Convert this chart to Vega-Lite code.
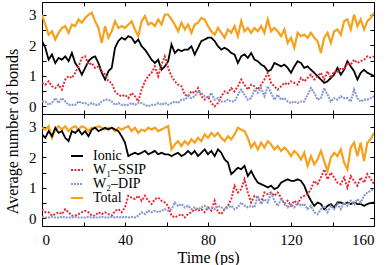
{
"$schema":"https://vega.github.io/schema/vega-lite/v6.json",
"padding":{"left":4,"top":1,"right":0,"bottom":0},
"config":{"font":"Times New Roman, Liberation Serif, serif","view":{"stroke":"black","strokeWidth":1},
"axis":{"domain":false,"grid":false,"tickColor":"black","tickSize":-4,"labelFont":"Times New Roman, Liberation Serif, serif","titleFont":"Times New Roman, Liberation Serif, serif","labelFontSize":15,"labelColor":"black","titleFontSize":16,"titleColor":"black","titleFontWeight":"normal","labelPadding":10},
"legend":{"labelFont":"Times New Roman, Liberation Serif, serif","labelFontSize":14,"labelColor":"black","symbolType":"stroke","symbolSize":144,"symbolStrokeWidth":2,"rowPadding":-1.8,"labelOffset":9,"padding":0}},
"spacing":0,
"bounds":"flush",
"resolve":{"legend":{"color":"independent","strokeDash":"independent"}},
"datasets":{
"top":[
{"t":0,"I":2.14,"S":0.77,"D":0.16,"T":3.0},
{"t":1.6,"I":1.92,"S":0.71,"D":0.16,"T":2.68},
{"t":3.2,"I":1.53,"S":0.82,"D":0.05,"T":2.35},
{"t":4.8,"I":1.70,"S":0.66,"D":0.11,"T":2.46},
{"t":6.4,"I":1.42,"S":0.6,"D":0.27,"T":2.19},
{"t":8,"I":1.59,"S":0.71,"D":0.11,"T":2.41},
{"t":9.6,"I":1.53,"S":0.55,"D":0.27,"T":2.57},
{"t":11.2,"I":1.64,"S":0.88,"D":0.16,"T":2.63},
{"t":12.8,"I":1.48,"S":0.99,"D":0.05,"T":2.41},
{"t":14.4,"I":1.75,"S":0.93,"D":0.05,"T":2.68},
{"t":16,"I":1.42,"S":1.1,"D":0.05,"T":2.63},
{"t":17.6,"I":1.26,"S":1.31,"D":0.16,"T":2.85},
{"t":19.2,"I":1.04,"S":1.59,"D":0.11,"T":2.74},
{"t":20.8,"I":1.26,"S":1.64,"D":0.11,"T":2.9},
{"t":22.4,"I":1.48,"S":1.37,"D":0.05,"T":3.0},
{"t":24,"I":1.59,"S":1.42,"D":0.11,"T":3.07},
{"t":25.6,"I":1.64,"S":1.26,"D":0.05,"T":2.79},
{"t":27.2,"I":1.42,"S":1.31,"D":0.05,"T":2.57},
{"t":28.8,"I":1.1,"S":1.15,"D":0.16,"T":2.08},
{"t":30.4,"I":0.88,"S":1.04,"D":0.22,"T":2.63},
{"t":32,"I":1.15,"S":0.82,"D":0.22,"T":2.25},
{"t":33.6,"I":1.26,"S":0.77,"D":0.16,"T":2.46},
{"t":35.2,"I":1.92,"S":0.49,"D":0.05,"T":2.79},
{"t":36.8,"I":2.14,"S":0.38,"D":0.11,"T":2.57},
{"t":38.4,"I":2.25,"S":0.33,"D":0.05,"T":2.63},
{"t":40,"I":2.19,"S":0.38,"D":0.05,"T":2.57},
{"t":41.6,"I":2.3,"S":0.27,"D":0.05,"T":2.68},
{"t":43.2,"I":2.25,"S":0.44,"D":0.11,"T":2.79},
{"t":44.8,"I":2.08,"S":0.33,"D":0.05,"T":2.52},
{"t":46.4,"I":2.19,"S":0.16,"D":0.11,"T":2.3},
{"t":48,"I":1.97,"S":0.55,"D":0.11,"T":2.79},
{"t":49.6,"I":1.86,"S":0.82,"D":0.05,"T":2.96},
{"t":51.2,"I":1.70,"S":0.99,"D":0.0,"T":2.68},
{"t":52.8,"I":1.53,"S":1.1,"D":0.05,"T":2.74},
{"t":54.4,"I":1.42,"S":1.31,"D":0.05,"T":2.63},
{"t":56,"I":1.53,"S":0.99,"D":0.11,"T":2.85},
{"t":57.6,"I":1.2,"S":1.37,"D":0.05,"T":2.68},
{"t":59.2,"I":1.31,"S":1.64,"D":0.11,"T":3.01},
{"t":60.8,"I":1.48,"S":1.26,"D":0.05,"T":3.01},
{"t":62.4,"I":2.03,"S":0.99,"D":0.11,"T":2.85},
{"t":64,"I":1.75,"S":0.82,"D":0.16,"T":2.68},
{"t":65.6,"I":1.86,"S":0.71,"D":0.11,"T":2.46},
{"t":67.2,"I":1.81,"S":0.66,"D":0.22,"T":2.74},
{"t":68.8,"I":1.86,"S":0.38,"D":0.22,"T":2.52},
{"t":70.4,"I":1.86,"S":0.33,"D":0.33,"T":2.68},
{"t":72,"I":1.97,"S":0.49,"D":0.27,"T":2.41},
{"t":73.6,"I":1.7,"S":0.44,"D":0.33,"T":2.68},
{"t":75.2,"I":1.92,"S":0.6,"D":0.49,"T":2.74},
{"t":76.8,"I":2.14,"S":0.33,"D":0.44,"T":2.9},
{"t":78.4,"I":2.19,"S":0.22,"D":0.33,"T":2.85},
{"t":80,"I":2.25,"S":0.33,"D":0.27,"T":2.63},
{"t":81.6,"I":2.25,"S":0.11,"D":0.44,"T":2.46},
{"t":83.2,"I":2.14,"S":0.0,"D":0.22,"T":2.35},
{"t":84.8,"I":1.97,"S":0.11,"D":0.27,"T":2.57},
{"t":86.4,"I":1.86,"S":0.33,"D":0.16,"T":2.41},
{"t":88,"I":1.92,"S":0.49,"D":0.16,"T":2.25},
{"t":89.6,"I":1.86,"S":0.44,"D":0.22,"T":2.52},
{"t":91.2,"I":1.75,"S":0.6,"D":0.16,"T":2.41},
{"t":92.8,"I":1.7,"S":0.49,"D":0.16,"T":2.63},
{"t":94.4,"I":1.42,"S":0.66,"D":0.38,"T":2.3},
{"t":96,"I":1.64,"S":0.88,"D":0.55,"T":2.79},
{"t":97.6,"I":1.7,"S":0.71,"D":0.38,"T":2.46},
{"t":99.2,"I":1.59,"S":0.55,"D":0.22,"T":2.57},
{"t":100.8,"I":1.75,"S":0.71,"D":0.27,"T":2.41},
{"t":102.4,"I":1.53,"S":0.66,"D":0.55,"T":2.57},
{"t":104,"I":1.48,"S":0.55,"D":0.44,"T":2.46},
{"t":105.6,"I":1.37,"S":0.71,"D":0.6,"T":2.63},
{"t":107.2,"I":1.31,"S":0.88,"D":0.33,"T":2.41},
{"t":108.8,"I":1.15,"S":1.1,"D":0.66,"T":2.85},
{"t":110.4,"I":1.2,"S":0.77,"D":0.44,"T":2.46},
{"t":112,"I":1.42,"S":0.66,"D":0.22,"T":2.57},
{"t":113.6,"I":1.37,"S":0.55,"D":0.38,"T":2.46},
{"t":115.2,"I":1.31,"S":0.66,"D":0.22,"T":2.3},
{"t":116.8,"I":1.37,"S":0.77,"D":0.27,"T":2.52},
{"t":118.4,"I":1.26,"S":0.71,"D":0.16,"T":2.08},
{"t":120,"I":1.1,"S":0.82,"D":0.11,"T":2.25},
{"t":121.6,"I":1.31,"S":0.77,"D":0.16,"T":1.92},
{"t":123.2,"I":1.48,"S":0.71,"D":0.11,"T":2.41},
{"t":124.8,"I":1.42,"S":0.93,"D":0.16,"T":2.3},
{"t":126.4,"I":1.26,"S":0.82,"D":0.16,"T":2.35},
{"t":128,"I":1.31,"S":0.93,"D":0.38,"T":2.25},
{"t":129.6,"I":1.2,"S":1.04,"D":0.6,"T":2.41},
{"t":131.2,"I":1.1,"S":0.88,"D":0.44,"T":2.25},
{"t":132.8,"I":0.99,"S":0.99,"D":0.22,"T":2.14},
{"t":134.4,"I":0.88,"S":1.1,"D":0.27,"T":1.75},
{"t":136,"I":0.77,"S":0.88,"D":0.6,"T":2.25},
{"t":137.6,"I":0.82,"S":1.15,"D":0.38,"T":2.41},
{"t":139.2,"I":0.93,"S":0.93,"D":0.16,"T":2.08},
{"t":140.8,"I":1.04,"S":1.15,"D":0.27,"T":2.46},
{"t":142.4,"I":1.26,"S":1.1,"D":0.22,"T":2.52},
{"t":144,"I":1.04,"S":1.26,"D":0.33,"T":2.35},
{"t":145.6,"I":1.2,"S":1.2,"D":0.27,"T":2.79},
{"t":147.2,"I":1.48,"S":1.42,"D":0.27,"T":2.85},
{"t":148.8,"I":1.31,"S":1.37,"D":0.16,"T":2.52},
{"t":150.4,"I":1.15,"S":1.53,"D":0.55,"T":3.01},
{"t":152,"I":0.88,"S":1.42,"D":0.27,"T":2.63},
{"t":153.6,"I":1.1,"S":1.48,"D":0.16,"T":2.85},
{"t":155.2,"I":1.2,"S":1.53,"D":0.22,"T":2.52},
{"t":156.8,"I":1.1,"S":1.64,"D":0.22,"T":2.79},
{"t":158.4,"I":1.05,"S":1.6,"D":0.27,"T":2.9},
{"t":160,"I":0.99,"S":1.64,"D":0.33,"T":3.07}
],
"bot":[
{"t":0,"I":2.75,"S":0.3,"D":0.05,"T":2.97},
{"t":1.6,"I":2.64,"S":0.2,"D":0.03,"T":2.91},
{"t":3.2,"I":2.86,"S":0.2,"D":0.03,"T":3.02},
{"t":4.8,"I":2.69,"S":0.09,"D":0.05,"T":2.64},
{"t":6.4,"I":2.97,"S":0.14,"D":0.03,"T":2.91},
{"t":8,"I":2.8,"S":0.2,"D":0.03,"T":3.02},
{"t":9.6,"I":2.86,"S":0.14,"D":0.05,"T":2.91},
{"t":11.2,"I":2.64,"S":0.3,"D":0.03,"T":3.02},
{"t":12.8,"I":2.53,"S":0.2,"D":0.03,"T":2.86},
{"t":14.4,"I":2.86,"S":0.09,"D":0.03,"T":2.97},
{"t":16,"I":2.8,"S":0.09,"D":0.05,"T":3.02},
{"t":17.6,"I":2.91,"S":0.14,"D":0.03,"T":2.91},
{"t":19.2,"I":2.75,"S":0.2,"D":0.03,"T":3.02},
{"t":20.8,"I":2.86,"S":0.25,"D":0.03,"T":2.97},
{"t":22.4,"I":2.69,"S":0.2,"D":0.05,"T":2.86},
{"t":24,"I":2.91,"S":0.09,"D":0.03,"T":2.97},
{"t":25.6,"I":2.97,"S":0.09,"D":0.03,"T":2.97},
{"t":27.2,"I":2.86,"S":0.2,"D":0.03,"T":3.02},
{"t":28.8,"I":2.91,"S":0.14,"D":0.05,"T":2.97},
{"t":30.4,"I":2.97,"S":0.2,"D":0.03,"T":2.91},
{"t":32,"I":2.91,"S":0.14,"D":0.03,"T":2.97},
{"t":33.6,"I":2.97,"S":0.09,"D":0.05,"T":2.97},
{"t":35.2,"I":2.91,"S":0.25,"D":0.03,"T":2.86},
{"t":36.8,"I":2.86,"S":0.3,"D":0.05,"T":2.97},
{"t":38.4,"I":2.69,"S":0.2,"D":0.03,"T":2.91},
{"t":40,"I":2.48,"S":0.36,"D":0.05,"T":2.97},
{"t":41.6,"I":2.04,"S":0.74,"D":0.03,"T":3.02},
{"t":43.2,"I":2.1,"S":0.68,"D":0.05,"T":2.86},
{"t":44.8,"I":2.15,"S":0.63,"D":0.03,"T":2.97},
{"t":46.4,"I":2.1,"S":0.74,"D":0.09,"T":2.8},
{"t":48,"I":2.15,"S":0.58,"D":0.2,"T":2.91},
{"t":49.6,"I":2.21,"S":0.74,"D":0.14,"T":2.86},
{"t":51.2,"I":2.1,"S":0.58,"D":0.25,"T":2.97},
{"t":52.8,"I":2.15,"S":0.47,"D":0.2,"T":2.91},
{"t":54.4,"I":2.21,"S":0.63,"D":0.25,"T":2.97},
{"t":56,"I":2.1,"S":0.68,"D":0.2,"T":2.86},
{"t":57.6,"I":2.15,"S":0.58,"D":0.25,"T":2.91},
{"t":59.2,"I":2.1,"S":0.52,"D":0.3,"T":2.97},
{"t":60.8,"I":2.1,"S":0.41,"D":0.25,"T":3.02},
{"t":62.4,"I":2.04,"S":0.09,"D":0.3,"T":2.26},
{"t":64,"I":2.1,"S":0.03,"D":0.52,"T":2.42},
{"t":65.6,"I":2.15,"S":0.09,"D":0.41,"T":2.53},
{"t":67.2,"I":2.04,"S":0.14,"D":0.47,"T":2.37},
{"t":68.8,"I":2.1,"S":0.03,"D":0.36,"T":2.53},
{"t":70.4,"I":2.21,"S":0.14,"D":0.41,"T":2.42},
{"t":72,"I":2.1,"S":0.2,"D":0.3,"T":2.59},
{"t":73.6,"I":2.21,"S":0.3,"D":0.36,"T":2.48},
{"t":75.2,"I":2.04,"S":0.25,"D":0.3,"T":2.64},
{"t":76.8,"I":2.15,"S":0.3,"D":0.36,"T":2.53},
{"t":78.4,"I":2.26,"S":0.2,"D":0.41,"T":2.75},
{"t":80,"I":2.1,"S":0.36,"D":0.3,"T":2.64},
{"t":81.6,"I":2.21,"S":0.25,"D":0.36,"T":2.8},
{"t":83.2,"I":2.04,"S":0.58,"D":0.3,"T":2.69},
{"t":84.8,"I":2.26,"S":0.2,"D":0.41,"T":2.8},
{"t":86.4,"I":2.15,"S":0.14,"D":0.36,"T":2.64},
{"t":88,"I":1.93,"S":0.3,"D":0.3,"T":2.53},
{"t":89.6,"I":1.83,"S":0.41,"D":0.36,"T":2.69},
{"t":91.2,"I":1.45,"S":0.63,"D":0.41,"T":2.59},
{"t":92.8,"I":1.55,"S":1.07,"D":0.3,"T":2.75},
{"t":94.4,"I":1.66,"S":0.85,"D":0.36,"T":2.97},
{"t":96,"I":1.61,"S":0.96,"D":0.52,"T":2.91},
{"t":97.6,"I":1.72,"S":1.28,"D":0.41,"T":2.86},
{"t":99.2,"I":1.39,"S":0.85,"D":0.36,"T":2.64},
{"t":100.8,"I":1.55,"S":0.52,"D":0.41,"T":2.32},
{"t":102.4,"I":1.34,"S":0.74,"D":0.36,"T":2.48},
{"t":104,"I":1.17,"S":0.68,"D":0.74,"T":2.26},
{"t":105.6,"I":1.12,"S":0.52,"D":0.47,"T":2.48},
{"t":107.2,"I":1.07,"S":0.85,"D":0.63,"T":2.32},
{"t":108.8,"I":1.01,"S":0.79,"D":0.52,"T":2.53},
{"t":110.4,"I":1.07,"S":0.85,"D":0.85,"T":2.42},
{"t":112,"I":0.96,"S":0.74,"D":0.58,"T":2.26},
{"t":113.6,"I":1.01,"S":0.85,"D":0.41,"T":2.37},
{"t":115.2,"I":1.17,"S":0.68,"D":0.63,"T":2.21},
{"t":116.8,"I":1.23,"S":0.47,"D":0.52,"T":2.32},
{"t":118.4,"I":1.28,"S":0.58,"D":0.36,"T":2.21},
{"t":120,"I":1.23,"S":0.41,"D":0.47,"T":2.04},
{"t":121.6,"I":1.23,"S":0.58,"D":0.36,"T":2.21},
{"t":123.2,"I":1.28,"S":0.47,"D":0.52,"T":2.1},
{"t":124.8,"I":1.23,"S":0.68,"D":0.41,"T":1.93},
{"t":126.4,"I":1.07,"S":0.74,"D":0.47,"T":2.15},
{"t":128,"I":0.79,"S":0.79,"D":0.3,"T":1.72},
{"t":129.6,"I":0.58,"S":0.96,"D":0.41,"T":2.04},
{"t":131.2,"I":0.41,"S":1.23,"D":0.2,"T":1.77},
{"t":132.8,"I":0.52,"S":1.12,"D":0.14,"T":1.93},
{"t":134.4,"I":0.47,"S":1.34,"D":0.3,"T":2.21},
{"t":136,"I":0.3,"S":1.61,"D":0.41,"T":1.88},
{"t":137.6,"I":0.41,"S":1.28,"D":0.2,"T":1.55},
{"t":139.2,"I":0.47,"S":1.5,"D":0.41,"T":1.99},
{"t":140.8,"I":0.36,"S":1.34,"D":0.3,"T":2.15},
{"t":142.4,"I":0.52,"S":1.17,"D":0.47,"T":2.04},
{"t":144,"I":0.52,"S":1.12,"D":0.3,"T":2.26},
{"t":145.6,"I":0.47,"S":1.34,"D":0.52,"T":1.83},
{"t":147.2,"I":0.52,"S":1.01,"D":0.41,"T":1.61},
{"t":148.8,"I":0.47,"S":1.39,"D":0.58,"T":2.32},
{"t":150.4,"I":0.52,"S":1.23,"D":0.47,"T":2.48},
{"t":152,"I":0.47,"S":1.07,"D":0.63,"T":2.04},
{"t":153.6,"I":0.47,"S":1.34,"D":0.52,"T":2.48},
{"t":155.2,"I":0.41,"S":1.17,"D":0.74,"T":1.88},
{"t":156.8,"I":0.47,"S":1.45,"D":0.85,"T":2.48},
{"t":158.4,"I":0.5,"S":1.3,"D":0.9,"T":2.6},
{"t":160,"I":0.52,"S":1.12,"D":0.96,"T":2.8}
]},
"vconcat":[
{"width":332,"height":112,
"data":{"name":"top"},
"transform":[{"fold":["T","I","S","D"],"as":["k","v"]}],
"resolve":{"axis":{"x":"independent","y":"independent"}},
"layer":[
{"mark":{"type":"line","clip":true},
"encoding":{
"x":{"field":"t","type":"quantitative","scale":{"domain":[0,160],"nice":false,"zero":false},"axis":{"values":[0,20,40,60,80,100,120,140,160],"labels":false,"title":null}},
"y":{"field":"v","type":"quantitative","scale":{"domain":[-0.25,3.42],"nice":false,"zero":false},"axis":{"values":[0,0.5,1,1.5,2,2.5,3],"labelExpr":"datum.value % 1 ? '' : format(datum.value, 'd')","title":"Average number of bonds","titleY":129,"titlePadding":8,"titleFontWeight":"normal"}},
"color":{"field":"k","type":"nominal","scale":{"domain":["I","S","D","T"],"range":["#000000","#e8262d","#8a98d2","#f5a11c"]},"legend":null},
"strokeDash":{"field":"k","type":"nominal","scale":{"domain":["I","S","D","T"],"range":[[1,0],[2,1.5],[2,1],[1,0]]},"legend":null},
"strokeWidth":{"field":"k","type":"nominal","scale":{"domain":["I","S","D","T"],"range":[1.8,2.2,2,2.6]},"legend":null}
}},
{"mark":{"type":"line","opacity":0},
"encoding":{
"x":{"field":"t","type":"quantitative","axis":{"orient":"top","values":[0,20,40,60,80,100,120,140,160],"labels":false,"title":null}},
"y":{"field":"v","type":"quantitative","axis":{"orient":"right","values":[0,0.5,1,1.5,2,2.5,3],"labels":false,"title":null}},
"detail":{"field":"k"}
}}
]},
{"width":332,"height":112,
"data":{"name":"bot"},
"transform":[{"fold":["T","I","S","D"],"as":["k","v"]}],
"resolve":{"axis":{"x":"independent","y":"independent"}},
"layer":[
{"mark":{"type":"line","clip":true},
"encoding":{
"x":{"field":"t","type":"quantitative","scale":{"domain":[0,160],"nice":false,"zero":false},"axis":{"values":[0,20,40,60,80,100,120,140,160],"labelExpr":"datum.value % 40 ? '' : format(datum.value, 'd')","title":"Time (ps)","titlePadding":2,"titleFontWeight":"normal"}},
"y":{"field":"v","type":"quantitative","scale":{"domain":[-0.25,3.42],"nice":false,"zero":false},"axis":{"values":[0,0.5,1,1.5,2,2.5,3],"labelExpr":"datum.value % 1 ? '' : format(datum.value, 'd')","title":null}},
"color":{"field":"k","type":"nominal","scale":{"domain":["I","S","D","T"],"range":["#000000","#e8262d","#8a98d2","#f5a11c"]},"legend":{"title":null,"orient":"none","legendX":28,"legendY":35,"labelExpr":"datum.value == 'I' ? 'Ionic' : datum.value == 'S' ? 'W₁–SSIP' : datum.value == 'D' ? 'W₂–DIP' : 'Total'"}},
"strokeDash":{"field":"k","type":"nominal","scale":{"domain":["I","S","D","T"],"range":[[1,0],[2,1.5],[2,1],[1,0]]},"legend":{"title":null,"orient":"none","legendX":28,"legendY":35,"labelExpr":"datum.value == 'I' ? 'Ionic' : datum.value == 'S' ? 'W₁–SSIP' : datum.value == 'D' ? 'W₂–DIP' : 'Total'"}},
"strokeWidth":{"field":"k","type":"nominal","scale":{"domain":["I","S","D","T"],"range":[1.8,2.2,2,2.6]},"legend":null}
}},
{"mark":{"type":"line","opacity":0},
"encoding":{
"x":{"field":"t","type":"quantitative","axis":{"orient":"top","values":[0,20,40,60,80,100,120,140,160],"labels":false,"title":null}},
"y":{"field":"v","type":"quantitative","axis":{"orient":"right","values":[0,0.5,1,1.5,2,2.5,3],"labels":false,"title":null}},
"detail":{"field":"k"}
}}
]}
]
}
